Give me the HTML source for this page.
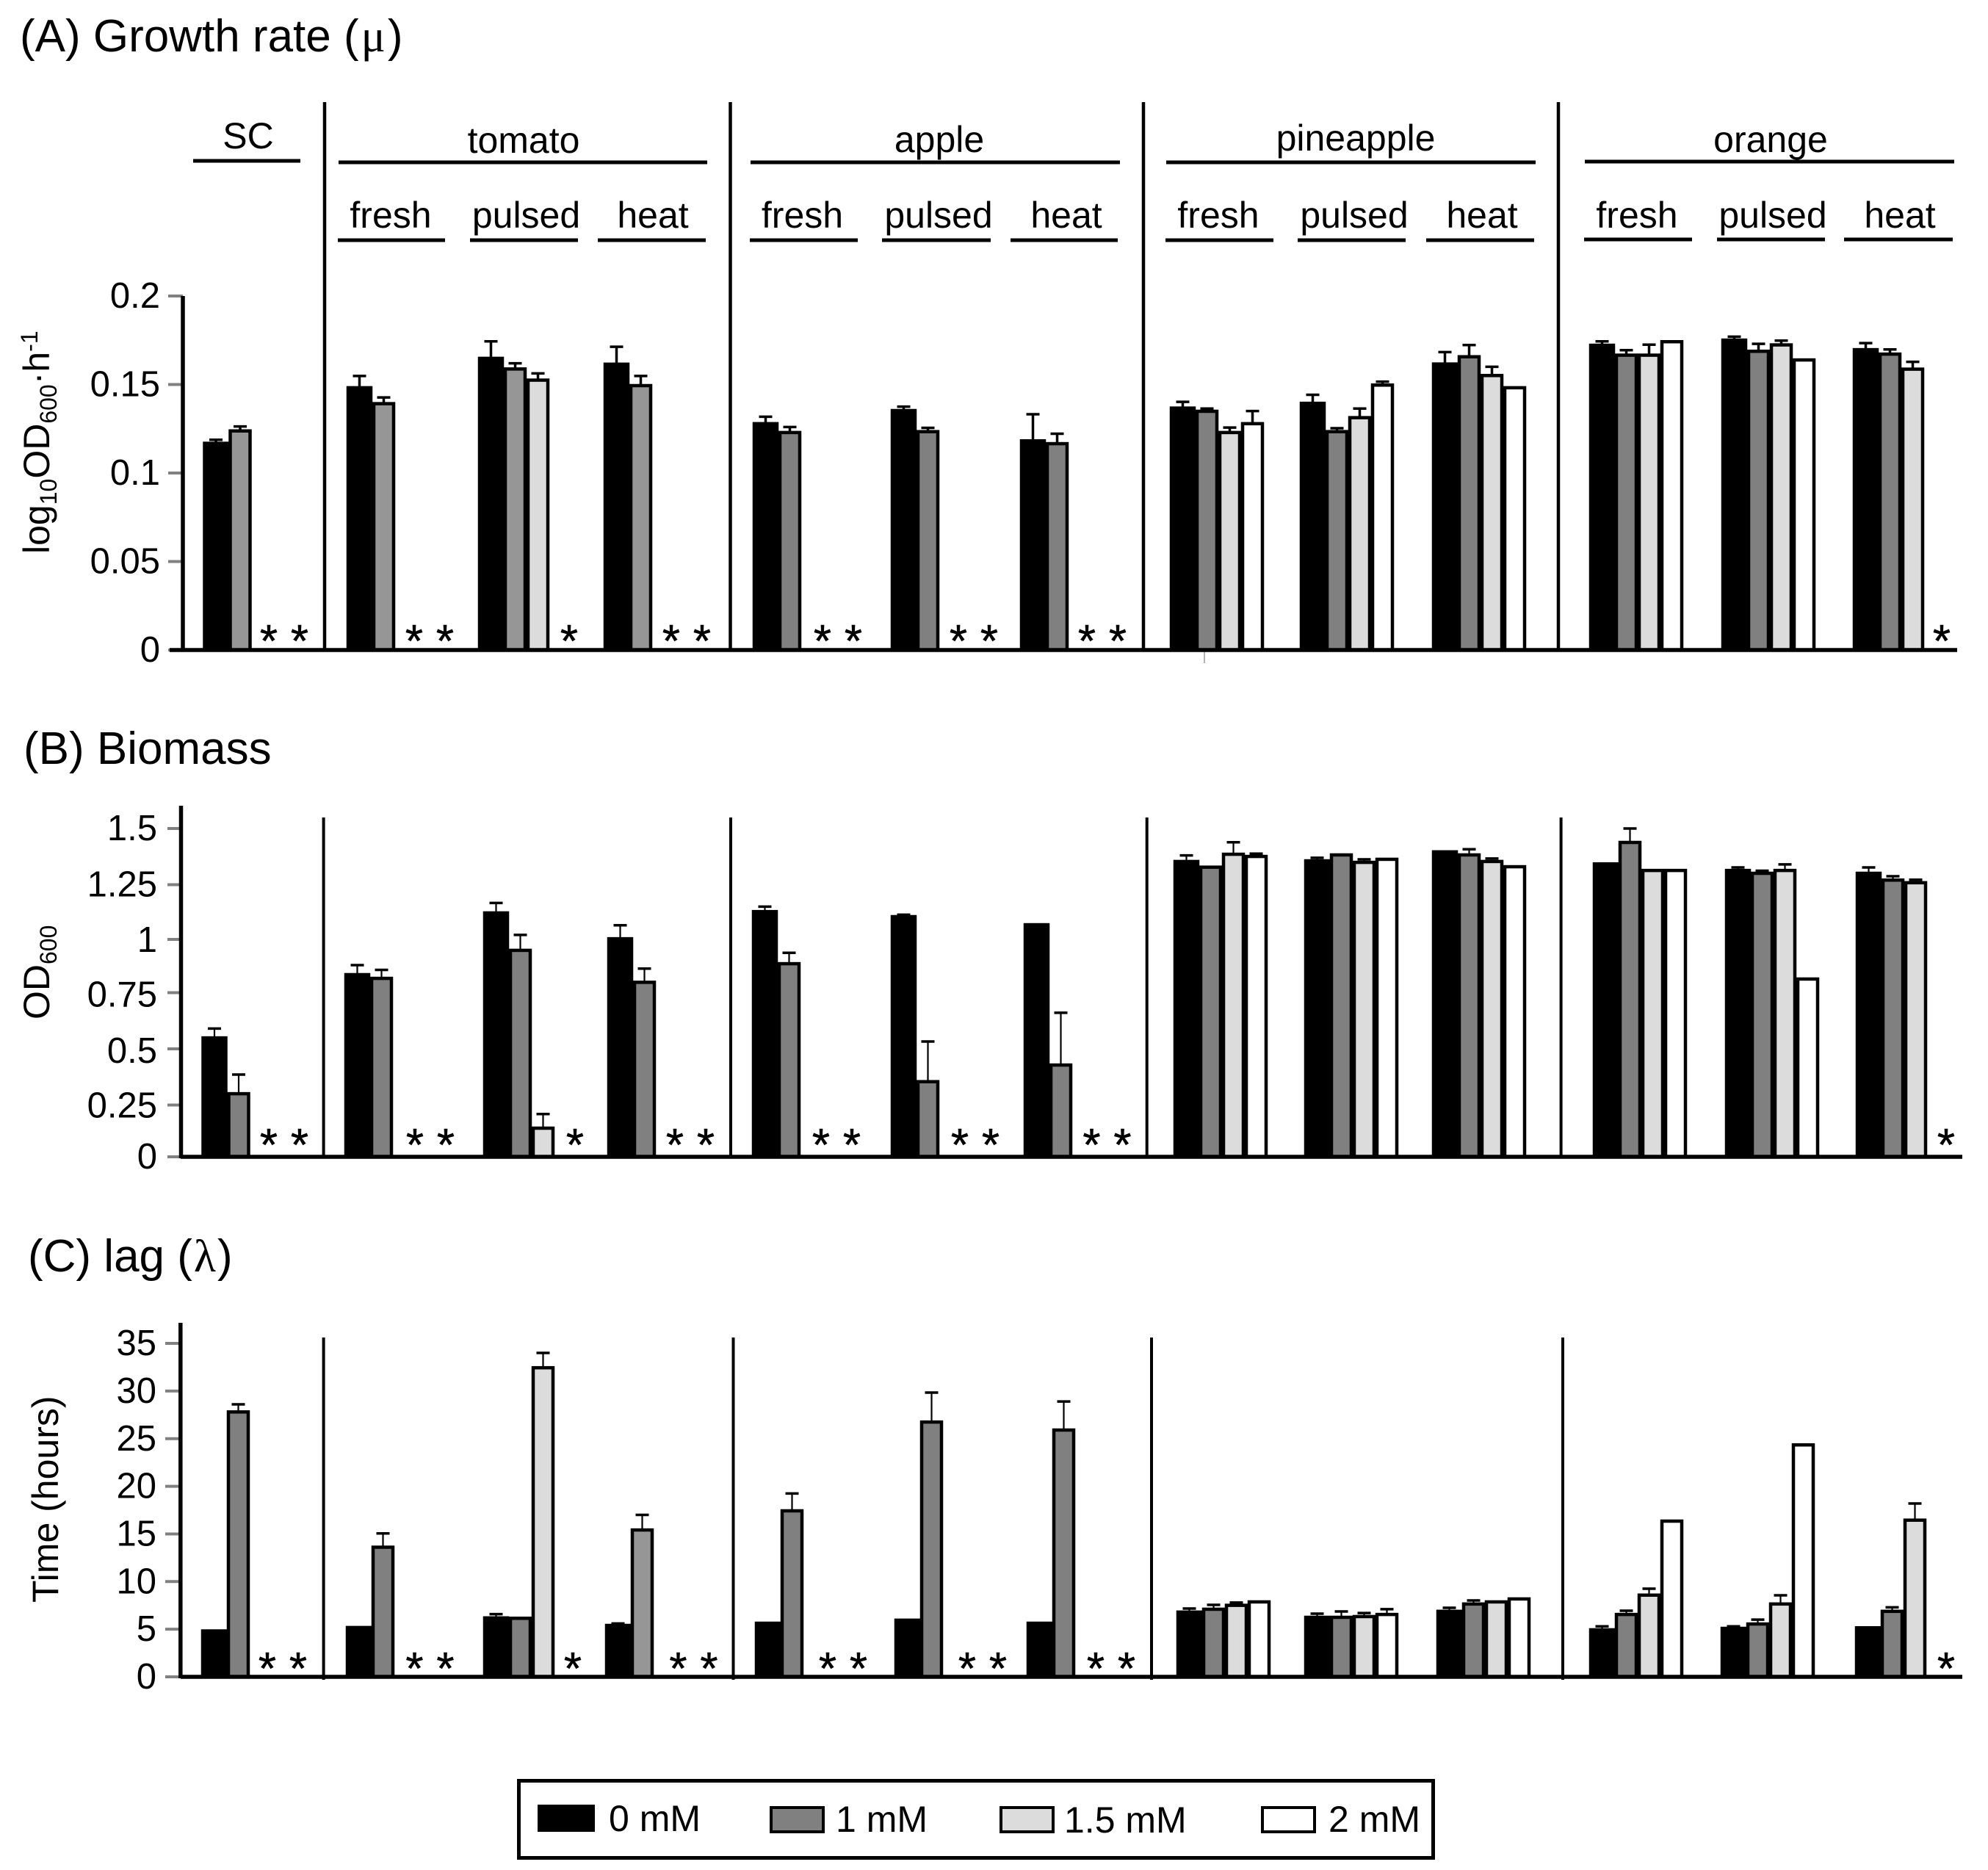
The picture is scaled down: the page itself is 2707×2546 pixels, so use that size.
<!DOCTYPE html>
<html lang="en">
<head>
<meta charset="utf-8">
<title>Growth rate, biomass and lag</title>
<style>
html,body{margin:0;padding:0;background:#fff}
svg{display:block}
text{font-family:"Liberation Sans",sans-serif;fill:#000}
.title{font-size:62px}
.head{font-size:50px;text-anchor:middle}
.tick{font-size:49px;text-anchor:end}
.axt{font-size:50px}
.leg{font-size:50px}
.greek{font-family:"Liberation Serif",serif}
</style>
</head>
<body>
<svg id="chart" xmlns="http://www.w3.org/2000/svg" width="2707" height="2546" viewBox="0 0 2707 2546">
  <rect width="2707" height="2546" fill="#fff"/>

  <text class="title" x="27" y="70">(A) Growth rate (<tspan class="greek" dx="3">μ</tspan><tspan dx="3">)</tspan></text>
  <text class="title" x="32" y="1040">(B) Biomass</text>
  <text class="title" x="38" y="1731">(C) lag (<tspan class="greek" dx="2">λ</tspan><tspan dx="2">)</tspan></text>

  <text class="axt" transform="translate(67,754) rotate(-90)">log<tspan font-size="32" dy="10">10</tspan><tspan dy="-10">OD</tspan><tspan font-size="32" dy="10">600</tspan><tspan dy="-10">·h</tspan><tspan font-size="32" dy="-16">-1</tspan></text>
  <text class="axt" transform="translate(67,1388) rotate(-90)">OD<tspan font-size="32" dy="10">600</tspan></text>
  <text class="axt" transform="translate(79,2182) rotate(-90)">Time (hours)</text>

  <g stroke="#000" stroke-width="5">
    <line x1="263" x2="409" y1="219" y2="219"/>
    <line x1="461" x2="963" y1="221" y2="221"/>
    <line x1="1022" x2="1525" y1="221" y2="221"/>
    <line x1="1588" x2="2091" y1="221" y2="221"/>
    <line x1="2158" x2="2661" y1="220" y2="220"/>
    <line x1="460" x2="606" y1="327" y2="327"/>
    <line x1="640" x2="787" y1="327" y2="327"/>
    <line x1="814" x2="961" y1="327" y2="327"/>
    <line x1="1021" x2="1168" y1="327" y2="327"/>
    <line x1="1201" x2="1349" y1="327" y2="327"/>
    <line x1="1376" x2="1522" y1="327" y2="327"/>
    <line x1="1587" x2="1734" y1="327" y2="327"/>
    <line x1="1767" x2="1914" y1="327" y2="327"/>
    <line x1="1942" x2="2089" y1="327" y2="327"/>
    <line x1="2157" x2="2304" y1="326" y2="326"/>
    <line x1="2338" x2="2485" y1="326" y2="326"/>
    <line x1="2511" x2="2659" y1="326" y2="326"/>
  </g>

  <text class="head" x="338" y="202">SC</text>
  <text class="head" x="713" y="208">tomato</text>
  <text class="head" x="1279" y="207">apple</text>
  <text class="head" x="1846" y="205">pineapple</text>
  <text class="head" x="2411" y="207">orange</text>

  <text class="head" x="532" y="310">fresh</text>
  <text class="head" x="716.5" y="310">pulsed</text>
  <text class="head" x="889" y="310">heat</text>
  <text class="head" x="1092.5" y="310">fresh</text>
  <text class="head" x="1278" y="310">pulsed</text>
  <text class="head" x="1452" y="310">heat</text>
  <text class="head" x="1659" y="310">fresh</text>
  <text class="head" x="1844" y="310">pulsed</text>
  <text class="head" x="2018" y="310">heat</text>
  <text class="head" x="2229" y="310">fresh</text>
  <text class="head" x="2414" y="310">pulsed</text>
  <text class="head" x="2587" y="310">heat</text>

  <line x1="1640" x2="1640" y1="885" y2="903" stroke="#999" stroke-width="1.5"/>

  <g id="plots"></g>

  <g>
    <rect x="706.5" y="2424.5" width="1245" height="105" fill="#fff" stroke="#000" stroke-width="5"/>
    <rect x="732" y="2457" width="78" height="37" fill="#000"/>
    <text class="leg" x="829" y="2493">0 mM</text>
    <rect x="1050" y="2461" width="71" height="33" fill="#808080" stroke="#000" stroke-width="4"/>
    <text class="leg" x="1138" y="2494">1 mM</text>
    <rect x="1363" y="2461" width="71" height="33" fill="#dcdcdc" stroke="#000" stroke-width="4"/>
    <text class="leg" x="1449" y="2495">1.5 mM</text>
    <rect x="1719" y="2461" width="71" height="33" fill="#fff" stroke="#000" stroke-width="4"/>
    <text class="leg" x="1809" y="2494">2 mM</text>
  </g>
</svg>

<script>
// ---------- Data ----------
const categories = ['SC','tomato-fresh','tomato-pulsed','tomato-heat','apple-fresh','apple-pulsed','apple-heat','pineapple-fresh','pineapple-pulsed','pineapple-heat','orange-fresh','orange-pulsed','orange-heat'];
const doses = ['0mM','1mM','1.5mM','2mM'];

// (A) growth rate
const growth0 = [0.1176,0.149,0.1656,0.1623,0.1287,0.1361,0.119,0.1375,0.1402,0.1624,0.173,0.1759,0.1705];
const growth1 = [0.1246,0.14,0.1596,0.1502,0.1237,0.1242,0.1174,0.1357,0.1242,0.1665,0.1674,0.1696,0.168];
const growth15 = [null,null,0.1533,null,null,null,null,0.1237,0.1321,0.1559,0.1674,0.1732,0.1595];
const growth2 = [null,null,null,null,null,null,null,0.1287,0.1505,0.149,0.175,0.1647,null];
const growthErr0 = [0.0012,0.0058,0.0088,0.009,0.0031,0.0014,0.0142,0.0027,0.004,0.0059,0.0014,0.0011,0.0029];
const growthErr1 = [0.0017,0.0027,0.0024,0.0046,0.0023,0.0013,0.0048,0.0007,0.0011,0.0058,0.002,0.0034,0.0018];
const growthErr15 = [0,0,0.003,0,0,0,0,0.002,0.0043,0.0041,0.0051,0.0016,0.0033];
const growthErr2 = [0,0,0,0,0,0,0,0.0063,0.0011,0,0,0,0];
const growthTicks = [0,0.05,0.1,0.15,0.2];
const growthTickLabels = ['0','0.05','0.1','0.15','0.2'];

// (B) biomass
const biomass0 = [0.55,0.839,1.121,1.003,1.127,1.104,1.067,1.356,1.359,1.4,1.345,1.315,1.302];
const biomass1 = [0.295,0.822,0.95,0.804,0.889,0.35,0.426,1.33,1.386,1.386,1.443,1.302,1.271];
const biomass15 = [null,null,0.1376,null,null,null,null,1.389,1.352,1.356,1.315,1.315,1.259];
const biomass2 = [null,null,null,null,null,null,null,1.379,1.366,1.332,1.315,0.819,null];
const biomassErr0 = [0.036,0.037,0.039,0.055,0.016,0.002,0,0.021,0.007,0,0,0.007,0.02];
const biomassErr1 = [0.081,0.032,0.064,0.056,0.043,0.177,0.232,0,0,0.019,0.057,0.005,0.011];
const biomassErr15 = [0,0,0.058,0,0,0,0,0.048,0.007,0.007,0,0.021,0.007];
const biomassErr2 = [0,0,0,0,0,0,0,0.006,0,0,0,0,0];
const biomassTicks = [0,0.25,0.5,0.75,1,1.25,1.5];
const biomassTickLabels = ['0','0.25','0.5','0.75','1','1.25','1.5'];

// (C) lag
const lag0 = [4.97,5.33,6.34,5.55,5.78,6.1,5.78,6.95,6.4,7.03,5.09,5.24,5.3];
const lag1 = [27.96,13.76,6.3,15.57,17.58,26.9,26.06,7.25,6.4,7.8,6.7,5.7,7.03];
const lag15 = [null,null,32.6,null,null,null,null,7.66,6.48,8.02,8.73,7.8,16.6];
const lag2 = [null,null,null,null,null,null,null,8.02,6.7,8.33,16.5,24.5,null];
const lagErr0 = [0,0,0.24,0.05,0,0,0,0.22,0.23,0.22,0.21,0.06,0];
const lagErr1 = [0.64,1.29,0,1.43,1.67,2.94,2.84,0.31,0.46,0.22,0.24,0.3,0.27];
const lagErr15 = [0,0,1.4,0,0,0,0,0.14,0.22,0,0.52,0.76,1.6];
const lagErr2 = [0,0,0,0,0,0,0,0,0.4,0,0,0,0];
const lagTicks = [0,5,10,15,20,25,30,35];
const lagTickLabels = ['0','5','10','15','20','25','30','35'];

// ---------- Layout of each panel (geometry, separate from the data) ----------
const panels = [
  {id:'a', means:[growth0,growth1,growth15,growth2], errs:[growthErr0,growthErr1,growthErr15,growthErr2],
   ticks:growthTicks, tickLabels:growthTickLabels, y0:885, unit:2410,
   axisX:249, axisTop:403, baseFrom:231, baseTo:2665, tickFrom:229, labelX:218, seps:[442,994.5,1557,2122], sepTop:139, sepBottom:885, sepW:4.5,
   starY:865, lighter:[0,1,2,3], stem:3.5, tickNudge:[0,0,0,0,0], labelNudge:[0,0,0,0,0],
   starts:[276.5,472,651,822,1025,1213,1389,1593,1770,1950,2164,2344,2523],
   shift:[-1.5,1,1,1,4,1,0,0,0,0,0,0,-2]},
  {id:'b', means:[biomass0,biomass1,biomass15,biomass2], errs:[biomassErr0,biomassErr1,biomassErr15,biomassErr2],
   ticks:biomassTicks, tickLabels:biomassTickLabels, y0:1575, unit:298,
   axisX:246.5, axisTop:1097, baseFrom:246, baseTo:2672, tickFrom:228, labelX:214, seps:[440.6,995,1561.7,2125.6], sepTop:1113, sepBottom:1575, sepW:4,
   starY:1551, lighter:[], stem:2.2, tickNudge:[0,4,2,0,2,2,0], labelNudge:[0,5,5,3,3,2,0],
   starts:[274.5,469,658,827,1024,1213,1394,1598,1776,1950,2169,2349,2527],
   shift:[0.5,5,2,1,3,3,1.5,0,0,0,0,0,0]},
  {id:'c', means:[lag0,lag1,lag15,lag2], errs:[lagErr0,lagErr1,lagErr15,lagErr2],
   ticks:lagTicks, tickLabels:lagTickLabels, y0:2283, unit:12.97,
   axisX:245.8, axisTop:1801, baseFrom:246, baseTo:2672, tickFrom:225, labelX:213, seps:[440.6,998.5,1568,2128], sepTop:1821, sepBottom:2287, sepW:4,
   starY:2264, lighter:[3], stem:2.2, tickNudge:[0,0,0,0,0,0,0,0], labelNudge:[0,0,0,0,0,0,0,0],
   starts:[274,471,658,824,1028,1218,1398,1602,1776,1956,2164,2343,2526],
   shift:[-1,2.5,-1,8.5,8,8,3,0,0,0,0,0,1]}
];

const SVGNS = 'http://www.w3.org/2000/svg';
function make(parent, tag, props) {
  const node = document.createElementNS(SVGNS, tag);
  for (const k in props) node.setAttribute(k, props[k]);
  parent.appendChild(node);
  return node;
}
const plots = document.getElementById('plots');
const BAR_W = [35,31,31,31];
const fills = ['#000','#808080','#dcdcdc','#fff'];

panels.forEach(function (p) {
  const yScale = function (v) { return p.y0 - v * p.unit; };
  const g = make(plots, 'g', {});
  
  

  // separators
  p.seps.forEach(function (sx) {
    const s = make(g, 'line', {x1:sx, x2:sx, y1:p.sepTop, y2:p.sepBottom, stroke:'#000', 'stroke-width':p.sepW});
    
    
  });

  // bars, error bars and asterisks
  categories.forEach(function (cat, gi) {
    let x = p.starts[gi];
    p.means.forEach(function (series, si) {
      const w = BAR_W[si];
      const v = series[gi];
      if (v !== null) {
        const top = yScale(v);
        const gray = si === 1 && p.lighter.indexOf(gi) >= 0 ? '#969696' : fills[si];
        const e = p.errs[si][gi];
        if (e > 0) {
          const ey = yScale(v + e);
          const cx = x + w / 2;
          const stem = make(g, 'line', {x1:cx, x2:cx, y1:ey, y2:top, stroke:'#000', 'stroke-width':p.stem});
          
          
          const cap = make(g, 'line', {x1:cx - 9, x2:cx + 9, y1:ey, y2:ey, stroke:'#000', 'stroke-width':3.5});
          
          
        }
        const bar = make(g, 'rect', {x:x + 2, y:top + 2, width:w - 4, height:Math.max(0, p.y0 - top - 2), fill:gray, stroke:'#000', 'stroke-width':4.5});
        
        
      } else {
        const lone = p.means[1][gi] !== null && p.means[2][gi] !== null;
        const dx = si === 2 ? 91 : (lone ? 123 : 133);
        const star = make(g, 'text', {x:p.starts[gi] + dx + p.shift[gi], y:p.starY + 29, 'font-size':62, 'text-anchor':'middle', stroke:'#000', 'stroke-width':0.6});
        star.textContent = '*';
        
        
      }
      x += w;
    });
  });

  // y ticks & labels
  p.ticks.forEach(function (t, i) {
    const ty = yScale(t);
    const tk = make(g, 'line', {x1:p.tickFrom, x2:p.axisX, y1:ty + p.tickNudge[i], y2:ty + p.tickNudge[i], stroke:'#808080', 'stroke-width':4});
    
    
    const lab = make(g, 'text', {x:p.labelX, y:ty + 16 + p.labelNudge[i], class:'tick'});
    lab.textContent = p.tickLabels[i];
    
    
  });

  // axes
  const ya = make(g, 'line', {x1:p.axisX, x2:p.axisX, y1:p.axisTop, y2:p.y0 + 2, stroke:'#000', 'stroke-width':5.5});
  
  
  const xa = make(g, 'line', {x1:p.baseFrom, x2:p.baseTo, y1:p.y0, y2:p.y0, stroke:'#000', 'stroke-width':5.5});
  
  
});
</script>
</body>
</html>
